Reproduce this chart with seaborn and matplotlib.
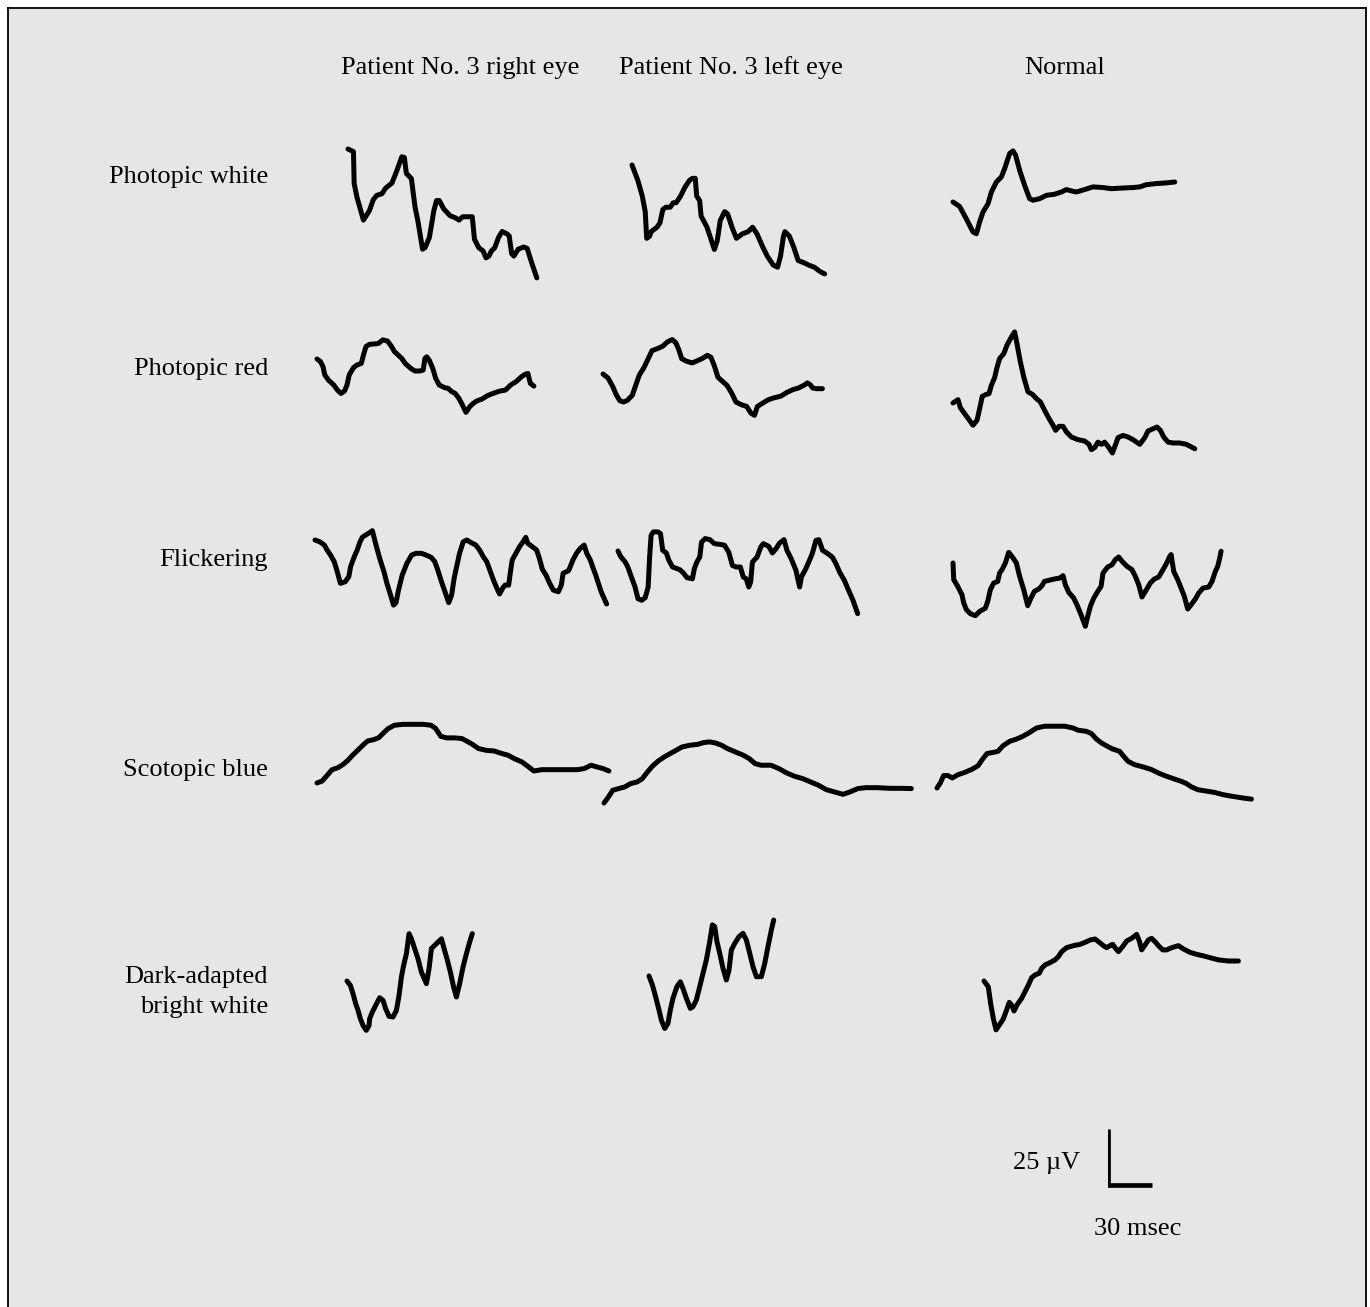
import numpy as np
import pandas as pd
import seaborn as sns
import matplotlib.pyplot as plt

# ERG traces, time in msec from trace start, amplitude in microvolts (relative to trace start)
white_r_t = [0, 3.7, 4.2, 6.1, 10.5, 14.6, 17.1, 19.5, 23.1, 25.6, 29.9, 32.9, 36.6, 38.3, 39.7, 43.1, 45.6, 47.5,
             50.7, 52.4, 55.3, 58.4, 60.2, 62.1, 65.1, 69.4, 73.1, 75.5, 78.0, 84.5, 86.0, 88.9, 91.9, 93.8, 95.8,
             97.5, 99.8, 102.3, 104.8, 108.4, 109.6, 111.3, 112.8, 115.7, 119.4, 121.8, 124.9, 128.4]
white_r_uv = [0, -1.2, -15.6, -21.7, -32.0, -27.7, -22.9, -20.9, -20.1, -17.6, -15.3, -10.3, -3.5, -3.8, -11.0, -13.3,
              -26.2, -32.3, -45.1, -44.4, -39.9, -27.7, -23.2, -23.2, -27.0, -30.0, -31.0, -32.0, -30.5, -30.5, -40.6,
              -44.4, -45.9, -49.0, -48.2, -45.9, -44.4, -39.9, -37.1, -38.3, -39.1, -47.1, -48.2, -45.1, -44.1, -44.7,
              -51.2, -58.0]
white_l_t = [0, 4, 7, 9, 10, 12, 13, 17, 19, 21, 23, 26, 28, 30, 33, 36, 39, 41, 43, 44, 46, 47, 51, 53, 56, 58, 60,
             63, 65, 68, 71, 75, 79, 82, 85, 89, 92, 96, 99, 101, 103, 104, 107, 110, 113, 117, 120, 124, 128, 131]
white_l_uv = [0, -7, -14, -21, -33, -32, -30, -28, -26, -20, -19, -19, -17, -17, -14, -10, -7, -6, -6, -14, -16, -23,
              -28, -32, -38, -34, -25, -21, -22, -28, -33, -31, -30, -28, -31, -37, -41, -45, -46, -41, -32, -30, -32,
              -37, -43, -44, -45, -46, -48, -49]
white_n_t = [0, 4.5, 9, 13.6, 15.9, 18.1, 20.4, 23.8, 26.1, 29.5, 32.9, 35.1, 38.5, 40.8, 42.6, 45.3, 48.7, 52.1,
             54.4, 58.9, 63.5, 69.1, 73.7, 77.1, 80.5, 83.9, 89.5, 95.2, 102, 107.7, 115.6, 122.4, 127, 131.5, 138.3,
             145.1, 150.8]
white_n_uv = [0, -2, -7.5, -13.5, -14.3, -9, -4.5, -0.8, 4.5, 9, 11.3, 15, 21.8, 23, 21, 14.3, 7.5, 1.5, 0.8, 1.5, 3,
              3.5, 4.5, 5.6, 5, 4.5, 5.6, 6.8, 6.5, 6, 6.3, 6.5, 6.8, 7.8, 8.3, 8.6, 9]

red_r_t = [0, 2.4, 4.1, 5.3, 7.8, 11.4, 13.9, 16.3, 18.7, 20.4, 21.9, 24.8, 27.2, 30.1, 31.6, 33.3, 35.7, 39.4, 41.8,
           44.7, 47.9, 50.3, 52.7, 55.2, 57.6, 60, 63.7, 66.6, 69.7, 72.2, 73.4, 74.6, 76.3, 78.7, 80.7, 83.1, 86.8,
           89.2, 91.6, 94, 96.5, 98.9, 101.3, 103.8, 106.2, 108.6, 112.3, 115.9, 119.6, 124.4, 128.1, 131.7, 135.4,
           139, 141.4, 143.4, 145.1, 147.5]
red_r_uv = [0, -1.2, -3.5, -7.2, -9.5, -11.7, -14, -15.5, -14.4, -11.7, -7.2, -3.9, -2.7, -2, 1.8, 5.6, 6.6, 6.8, 7,
            8.6, 8.1, 6, 3.3, 1.8, 0.3, -2, -4.2, -5.4, -5.4, -5, 0.3, 1, -0.5, -4.2, -8.7, -11.7, -12.9, -13.2, -14.7,
            -15.5, -17.7, -20.7, -24, -21.5, -20, -18.9, -18, -16.5, -15.5, -14.4, -14, -11.7, -10.2, -8, -6.9, -6.5,
            -11, -12.2]
red_l_t = [0, 3.4, 6.6, 9, 11.4, 13.9, 16.3, 19.9, 22.4, 24.8, 27.7, 30.1, 33.3, 36.9, 40.6, 43.7, 47.1, 49.6, 51.5,
           53.5, 56.9, 60.8, 64.2, 67.3, 71, 73.4, 75.8, 78.2, 80.7, 84.3, 87.5, 90.4, 94, 97.7, 100.6, 103, 105,
           108.6, 112.3, 115.9, 120.8, 125.6, 129.3, 132.9, 136.6, 139, 140.9, 142.6, 145.1, 149.2]
red_l_uv = [0, -1.8, -5.6, -9.3, -12, -12.6, -12, -9.6, -4.8, -0.3, 2.7, 6, 10.5, 11.4, 12.5, 14.4, 15.5, 14, 11,
            6.9, 5.7, 5, 6, 6.9, 8.4, 7.5, 3.5, -1.5, -3, -5.1, -8.6, -12.6, -13.8, -14.6, -17.6, -18.6, -14.6, -13.1,
            -11.6, -10.8, -10, -8.1, -7, -6.3, -5.1, -4, -4.8, -6.3, -6.6, -6.6]
red_n_t = [0, 3.4, 5, 7.9, 10.9, 13.6, 16.3, 18.1, 19.9, 22.7, 24.5, 26.1, 28.3, 29.9, 31.7, 34.5, 36.7, 39.7, 41.9,
           43.5, 45.8, 48.1, 51, 54, 56.7, 59.4, 62.3, 65.3, 68, 69.8, 72.1, 74.8, 77.1, 80.5, 85, 89.5, 92.5, 94.1,
           96.3, 98.6, 100.9, 103.1, 105.4, 108.4, 110.6, 112.2, 115.6, 119, 122.4, 127, 130.4, 132.6, 136, 138.7,
           141, 143.3, 146.2, 149.6, 154.2, 158.7, 164.4]
red_n_uv = [0, 1.5, -2.1, -4.8, -7.5, -10, -7.8, -2.6, 3, 3.9, 4.2, 8, 11.4, 15.9, 20, 22.2, 26, 29.7, 32, 26.7,
            18.5, 11.7, 5, 3.9, 2, 0.5, -3.3, -7, -10, -12.3, -10.5, -10.5, -13, -15.3, -16.5, -17.1, -18.6, -21,
            -20.1, -17.6, -18.6, -17.6, -19.5, -22.5, -18.6, -15.6, -14.6, -15.3, -16.5, -18.6, -15.6, -12.6, -11.6,
            -10.8, -12.3, -15.3, -17.6, -18, -18, -18.6, -20.6]

flick_r_t = [0, 3.2, 6.4, 8.2, 10.6, 13.1, 14.8, 17.3, 20.5, 23, 24.2, 26.7, 28.7, 30.4, 32.1, 34.6, 37.1, 39, 41.5,
             44, 46.9, 48.9, 51.4, 53.4, 55.1, 56.8, 59.3, 62.5, 65.7, 68.7, 72.4, 75.6, 79, 81.5, 83.5, 86, 88.4,
             90.9, 92.9, 94.6, 96.3, 98.3, 100.8, 103.2, 106.2, 109.4, 111.9, 114.4, 116.8, 119.3, 121.8, 124.2,
             125.5, 127.5, 129.2, 131.7, 132.9, 134.1, 136.6, 139.1, 141.5, 143.3, 144.7, 147.7, 150.7, 152.6, 154.6,
             157.1, 159.6, 162, 165.5, 167.5, 168.7, 172.4, 173.6, 175.4, 177.8, 180.3, 183, 184.8, 187.2, 189.2,
             190.9, 192.7, 194.6, 196.6, 198.3]
flick_r_uv = [0, -0.8, -2.3, -4.5, -6.8, -9.8, -13.5, -19.5, -18.8, -16.5, -12, -7.5, -4.5, -1.2, 1.2, 2.3, 3.3, 4.2,
              -2.3, -8.3, -14.3, -19.5, -24.8, -29.3, -28.2, -22.5, -15.8, -10.5, -6.8, -6, -6, -6.8, -7.8, -9.8,
              -13.5, -18.8, -23.3, -28.2, -24.8, -17.3, -12, -6, -0.8, 0, -1.2, -2.3, -4.5, -7.5, -9.8, -14.3, -18.8,
              -22.5, -24.3, -21.8, -20.3, -20.3, -14.3, -9, -6, -3, -0.8, 1.2, -1.5, -3, -4.5, -8.3, -13.2, -15.8,
              -19.5, -22.5, -23.3, -20.3, -15, -13.8, -12, -9, -6, -3.8, -2.3, -6, -9, -12.8, -15.8, -19.5, -23.3,
              -26.3, -28.8]
flick_l_t = [0, 1.7, 4.9, 6.7, 9.1, 11.6, 13.6, 16.1, 18.5, 20.5, 21.5, 22.5, 24, 27.2, 28.9, 30.4, 32.9, 34.6,
             37.1, 42, 44.5, 46.9, 50.6, 51.9, 53.6, 55.6, 56.8, 59.3, 62.5, 65.5, 69.2, 72.4, 75.3, 77.8, 80.3, 83.2,
             85.2, 87.2, 88.9, 90.2, 91.4, 94.6, 97.1, 98.8, 102.5, 105, 107.4, 109.9, 112.9, 114.9, 117.8, 121,
             123.5, 124.7, 127.7, 129.7, 132.1, 134.6, 136.6, 139.1, 142, 145.7, 148.2, 150.7, 153.9, 156.8, 159.8,
             163]
flick_l_uv = [0, -2.4, -5, -7.2, -11.7, -16.2, -21.5, -22.2, -21, -16.2, -2.7, 7, 8.6, 8.6, 7.8, 0.3, -0.9, -4.2,
              -7.2, -8.4, -9.9, -12, -12.5, -8, -5, -2.7, 4, 5.6, 5.1, 3.3, 3, 2.6, -0.5, -6.5, -7.2, -7.2, -11.7,
              -12.5, -16.2, -14, -5, -2.7, 1.8, 3.3, 2.1, -0.9, 1, 3.6, 5.1, 0.3, -3.5, -8.7, -16.2, -11.7, -8, -5,
              -1.2, 4.8, 5.1, 0.3, -0.9, -2.7, -5.7, -9.5, -13.2, -17.7, -22.2, -28.2]
flick_n_t = [0, 0.5, 3.2, 6.1, 7.3, 9.1, 11.8, 15.2, 18.1, 22, 23.6, 25.4, 27.7, 30.4, 31.7, 33.3, 35.6, 37.9, 40.8,
             43.1, 45.3, 48.1, 50.8, 53, 55.3, 58.3, 60.5, 62.1, 65.1, 68.9, 72.5, 74.8, 76.4, 78.7, 82.1, 84.3, 87.1,
             90, 91.6, 93.4, 95.7, 98.4, 100.7, 102, 105.2, 108.1, 110.4, 112.7, 114.9, 118.3, 121.7, 124, 126.3,
             128.5, 130.8, 134.2, 136.9, 139.9, 142.8, 145.1, 147.4, 148.3, 150.1, 152.8, 155.1, 157.3, 159.6, 161.9,
             164.8, 167.1, 170, 173.9, 176.1, 178.4, 180, 181.4, 182.3]
flick_n_uv = [0, -7.5, -10.5, -14.3, -18, -21, -22.8, -23.7, -21.8, -20.3, -17.3, -12, -9, -8.3, -4.5, -3, 0, 4.8,
              2.3, 0, -6, -12, -19.2, -15.8, -12.8, -11.7, -10.2, -8.3, -7.8, -7.2, -6.8, -5.7, -9.8, -13.2, -15.8,
              -18.8, -23.3, -28.5, -24, -19.5, -15.8, -12.8, -10.5, -4.5, -1.8, -0.8, 1.5, 2.7, 0.8, -1.5, -3, -6,
              -9.8, -15.3, -12.8, -9, -7.2, -6.3, -3, -0.3, 3, 3.8, -3.8, -7.5, -11.3, -15, -20.7, -18.8, -16.2,
              -13.5, -11.3, -10.8, -8.3, -3.8, -1.5, 2.3, 5.3]

blue_r_t = [0, 3.5, 7, 10.2, 14.3, 17.8, 21, 24.2, 27.7, 31.2, 34.4, 38.5, 42, 45.2, 48.4, 52.7, 58.6, 65.4, 72.1,
            77.5, 80.7, 84.2, 88.2, 93.6, 98.5, 101.7, 105.7, 109.8, 115.1, 120.5, 124.5, 129.9, 134, 139.3, 143.4,
            147.4, 152.8, 160.9, 168.9, 177, 181.8, 186.4, 190.5, 194.5, 198.5]
blue_r_uv = [0, 0.9, 3.5, 6, 6.9, 8.4, 10.2, 12.5, 14.7, 17, 18.9, 19.5, 20.4, 22.5, 24.5, 26, 26.4, 26.4, 26.4, 26,
             24.5, 21, 20.3, 20.3, 20, 18.9, 17.4, 15.5, 14.7, 14.4, 13.5, 12.5, 11, 9.5, 7.5, 5.4, 6, 6, 6, 6, 6.5,
             8, 7.2, 6.5, 5.4]
blue_l_t = [0, 2.7, 5.9, 10, 14, 18, 22.6, 26.1, 29.6, 32.8, 36.9, 40.9, 44.9, 49, 53, 58.4, 63.8, 67.8, 71.8, 75.9,
            79.9, 83.9, 89.3, 94.7, 98.7, 102.8, 106.8, 113.5, 118.9, 124.3, 129.7, 135, 140.4, 145.8, 151.2, 156.6,
            162.5, 167.3, 172.7, 178.1, 186.1, 194.2, 202.3, 209]
blue_l_uv = [0, 2.4, 5.7, 6.5, 7.2, 8.7, 9.5, 11, 14, 16.5, 18.9, 20.7, 22.2, 23.7, 25.2, 26, 26.4, 27.2, 27.5, 27,
             26, 24.5, 23, 21.5, 20, 17.7, 17, 17, 15.5, 13.5, 12, 11, 9.5, 8, 6, 5, 3.9, 5, 6.5, 6.9, 6.9, 6.6, 6.6,
             6.5]
blue_n_t = [0, 2.3, 4.5, 7.5, 10.4, 14.3, 18.8, 23.4, 27.9, 30.8, 34, 38.1, 41.5, 44.9, 49.4, 54, 58.5, 63, 67.6,
            73.2, 80, 86.8, 92.5, 95.9, 101.6, 105, 108.4, 111.8, 115.2, 119.2, 124.2, 126.5, 129.9, 134.4, 140.1,
            145.8, 151.4, 156, 161.6, 166.2, 169.6, 173, 177.5, 183.2, 188.8, 194.5, 201.3, 208.1, 213.8]
blue_n_uv = [0, 2.3, 5.6, 5.6, 4.5, 6, 7, 8.3, 10, 12.8, 15.5, 16, 16.5, 19, 21, 22, 23.3, 25, 27, 27.8, 27.8, 27.8,
             27, 26, 25.5, 24.5, 22, 20.3, 19, 17.6, 16.5, 14.6, 12, 10.5, 9.5, 8.3, 6.5, 5.3, 4, 3, 2, 0.5, -0.8,
             -1.4, -2, -3, -3.8, -4.5, -5]

dark_r_t = [0, 2.3, 4.1, 5.9, 7.5, 9.1, 10.9, 13.1, 15, 15.4, 17.2, 19.5, 22.2, 24.5, 26.3, 28.6, 31.3, 33.6, 35.4,
            37, 38.5, 40.4, 42.2, 43.8, 46, 48.3, 50.6, 54, 55.8, 57.4, 60.8, 64.2, 65.7, 68, 70.3, 72.5, 74.4, 76.6,
            78.9, 81.2, 83.4, 85.2]
dark_r_uv = [0, -2, -5.7, -10.2, -13.2, -17, -20, -22.2, -20, -17, -14, -11, -7.5, -8.7, -12.5, -15.9, -16.2, -13.2,
             -6.5, 1.8, 7, 12.3, 21.3, 19, 14.6, 10, 4, -1.2, 5.6, 14.6, 16.8, 19, 15.3, 10, 4, -2.7, -7.2, -1.2, 6.3,
             12.3, 17.5, 21.3]
dark_l_t = [0, 2.3, 4.5, 6.8, 8.4, 10.7, 12.9, 14.5, 16.3, 19, 21.3, 23.1, 25.4, 28.1, 29.9, 32.2, 34.5, 36.7, 39,
            41.3, 43.1, 44.7, 46.2, 48.1, 50.3, 52.6, 54.4, 56, 58.3, 61.2, 63.9, 66.2, 68.5, 70.7, 73, 76.4, 78.7,
            80.9, 83.2, 84.8]
dark_l_uv = [0, -4, -9.3, -15.3, -19.8, -23.6, -21.3, -15.3, -10, -4.8, -2.6, -5.6, -10, -14.6, -13.8, -10.8, -4.8,
             1.2, 7.2, 15.5, 23, 22.2, 15.5, 10.2, 3.5, -1.8, 2.7, 11.7, 14.7, 17.7, 19.2, 16.2, 10.2, 4.2, -0.3, -0.3,
             5.7, 13.2, 20.7, 25.2]
dark_n_t = [0, 2.9, 4.5, 6.3, 8.2, 10.4, 13.1, 15.4, 17.2, 18.8, 20.4, 22.7, 25.6, 27.9, 30.2, 32.4, 34.7, 37.6,
            39.2, 41.5, 45.3, 48.3, 50.6, 52.8, 56.2, 60.8, 65.3, 68.7, 72.5, 75.5, 78.4, 81.2, 83.4, 85.7, 87.5,
            89.1, 91.4, 94.3, 97, 100.4, 102.7, 103.8, 105.6, 107.2, 109.5, 111.8, 114, 116.3, 118.6, 121.5, 124.2,
            127.6, 132.2, 135.6, 140.1, 144.6, 149.2, 153.7, 159.4, 166.2, 173]
dark_n_uv = [0, -2.6, -10, -16.8, -22, -19.8, -17.1, -13, -9.6, -10.8, -13.5, -10.5, -7.8, -4.8, -1.8, 1.5, 2.7,
             3.5, 5.7, 7.2, 8.4, 9.5, 11, 13.2, 15, 15.9, 16.5, 17.4, 18.5, 18.9, 17.4, 15.9, 15, 15.9, 16.5, 15,
             13.2, 15.5, 18, 19.2, 20.4, 21, 18, 14, 16.2, 18.5, 19.2, 17.7, 15.9, 14, 14, 15, 15.9, 14.4, 12.9, 12,
             11.3, 10.5, 9.5, 9, 9]

col_labels = ["Patient No. 3 right eye", "Patient No. 3 left eye", "Normal"]
row_labels = ["Photopic white", "Photopic red", "Flickering", "Scotopic blue", "Dark-adapted\nbright white"]
scale_ms = 30
scale_uv = 25

traces = [
    [(white_r_t, white_r_uv), (white_l_t, white_l_uv), (white_n_t, white_n_uv)],
    [(red_r_t, red_r_uv), (red_l_t, red_l_uv), (red_n_t, red_n_uv)],
    [(flick_r_t, flick_r_uv), (flick_l_t, flick_l_uv), (flick_n_t, flick_n_uv)],
    [(blue_r_t, blue_r_uv), (blue_l_t, blue_l_uv), (blue_n_t, blue_n_uv)],
    [(dark_r_t, dark_r_uv), (dark_l_t, dark_l_uv), (dark_n_t, dark_n_uv)],
]

# layout (pixels) -- start point of each trace
W, H = 1370, 1307
MS_PER_PX = 0.68
UV_PER_PX = 0.45
origins = [[(348, 149), (632, 165), (953, 202)],
           [(317, 359), (603, 374), (953, 403)],
           [(315, 540), (618, 551), (953, 563)],
           [(317, 783), (604, 803), (937, 788)],
           [(347, 981), (649, 976), (984, 981)]]
row_y = [177, 369, 560, 770, 992]
col_x = [460, 731, 1065]

sns.set_style("white")
plt.rcParams['font.family'] = ['Liberation Serif', 'DejaVu Serif']
plt.rcParams['text.color'] = 'black'

fig = plt.figure(figsize=(W / 100, H / 100), dpi=100, facecolor="white")

# grey panel with frame
bg = fig.add_axes([8 / W, 0, (1366 - 8) / W, (H - 8) / H])
bg.set_facecolor("#e6e6e6")
bg.set_xticks([])
bg.set_yticks([])
for side in ["left", "top", "right"]:
    bg.spines[side].set_visible(True)
    bg.spines[side].set_color("black")
    bg.spines[side].set_linewidth(1.3)
bg.spines["bottom"].set_visible(False)


def trace_axes(x0, y0, w=330, h=300):
    ax = fig.add_axes([x0 / W, (H - y0 - h / 2) / H, w / W, h / H])
    ax.set_xlim(0, w * MS_PER_PX)
    ax.set_ylim(-h / 2 * UV_PER_PX, h / 2 * UV_PER_PX)
    ax.axis("off")
    ax.patch.set_alpha(0)
    return ax


for r, row in enumerate(traces):
    for c, (t, uv) in enumerate(row):
        x0, y0 = origins[r][c]
        ax = trace_axes(x0, y0)
        df = pd.DataFrame({"t": t, "uv": uv})
        sns.lineplot(data=df, x="t", y="uv", ax=ax, sort=False, estimator=None, color="black",
                     lw=3.6, solid_joinstyle="round", solid_capstyle="round")
        ax.lines[-1].set_clip_on(False)

# scale bar
sax = trace_axes(1108, 1185, w=100, h=200)
sns.lineplot(x=[0, 0, scale_ms], y=[scale_uv, 0, 0], ax=sax, sort=False, estimator=None,
             color="black", lw=3.4, solid_joinstyle="miter", solid_capstyle="butt")
fig.text(1080 / W, 1 - 1163 / H, f"{scale_uv} µV", ha="right", va="center", fontsize=19, color="black")
fig.text(1138 / W, 1 - 1229 / H, f"{scale_ms} msec", ha="center", va="center", fontsize=19, color="black")

for x, lab in zip(col_x, col_labels):
    fig.text(x / W, 1 - 68 / H, lab, ha="center", va="center", fontsize=19, color="black")
for y, lab in zip(row_y, row_labels):
    fig.text(268 / W, 1 - y / H, lab, ha="right", va="center", fontsize=19, linespacing=1.45,
             color="black")

fig.savefig("out.png", dpi=100, facecolor="white")
